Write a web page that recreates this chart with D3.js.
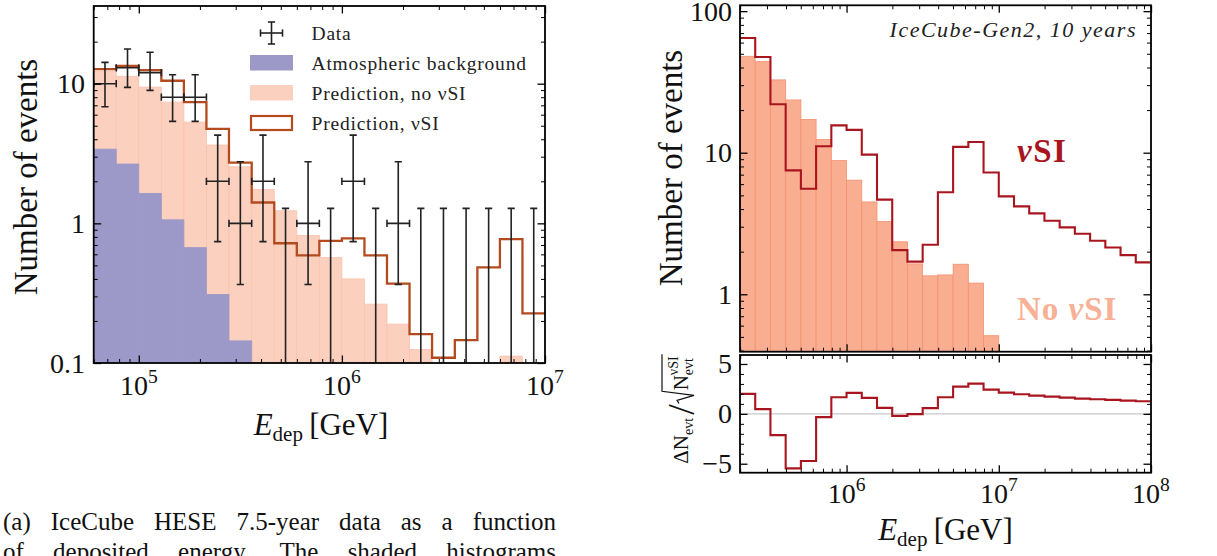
<!DOCTYPE html>
<html>
<head>
<meta charset="utf-8">
<script src="https://cdn.jsdelivr.net/npm/d3@7"></script>
<style>
  body { margin: 0; background: #fff; }
  svg { display: block; }
</style>
</head>
<body>
<svg id="fig" width="1217" height="556"></svg>
<script>
// ---------- left panel: IceCube HESE 7.5 yr (log10 of bin edges, GeV) ----------
var heseEdges = [4.778, 4.889, 5.000, 5.111, 5.222, 5.333, 5.444, 5.556, 5.667, 5.778, 5.889,
                 6.000, 6.111, 6.222, 6.333, 6.444, 6.556, 6.667, 6.778, 6.889, 7.000];
var heseAtm   = [3.4, 2.66, 1.64, 1.06, 0.67, 0.31, 0.144, 0, 0, 0, 0, 0, 0, 0, 0, 0, 0, 0, 0, 0];
var heseNoSI  = [12.3, 11.3, 9.46, 7.38, 5.31, 3.64, 2.54, 1.75, 1.23, 0.82, 0.57, 0.40, 0.264, 0.19,
                 0.125, 0, 0, 0, 0.112, 0];
var heseSI    = [12.7, 13.4, 12.5, 10.5, 7.38, 4.75, 2.72, 1.41, 0.72, 0.59, 0.75, 0.78, 0.59, 0.37,
                 0.161, 0.109, 0.146, 0.484, 0.77, 0.227];
var heseData  = [10, 13, 12, 8, 8, 2, 1, 2, 0, 1, 0, 2, 0, 1, 0, 0, 0, 0, 0, 0];
var heseErrLo = [6.83, 9.41, 8.95, 5.37, 5.37, 0.74, 0.365, 0.74, 0, 0.365, 0, 0.74, 0, 0.365, 0, 0, 0, 0, 0, 0];
var heseErrHi = [14.2, 17.7, 16.8, 11.6, 11.6, 4.28, 2.76, 4.28, 1.28, 2.76, 1.28, 4.28, 1.28, 2.76,
                 1.28, 1.28, 1.28, 1.28, 1.28, 1.28];
var heseXTicks = [1e5, 1e6, 1e7];
var heseXLabels = ["5", "6", "7"];
var heseYTicks = [0.1, 1, 10];
var heseYLabels = ["0.1", "1", "10"];
var legendNames = ["Data", "Atmospheric background", "Prediction, no \u03BDSI", "Prediction, \u03BDSI"];

// ---------- right panel: IceCube-Gen2, 10 years ----------
var gen2Edges = [5.3, 5.4, 5.5, 5.6, 5.7, 5.8, 5.9, 6.0, 6.1, 6.2, 6.3, 6.4, 6.5, 6.6,
                 6.7, 6.8, 6.9, 7.0, 7.1, 7.2, 7.3, 7.4, 7.5, 7.6, 7.7, 7.8, 7.9, 8.0];
var gen2NoSI = [48, 44, 32.7, 23.6, 17.2, 12.4, 8.8, 6.4, 4.49, 3.26, 2.35, 1.64, 1.35, 1.37,
                1.63, 1.20, 0.51];
var gen2SI   = [64.7, 47.4, 22, 7.5, 5.56, 11.1, 15.6, 14.5, 9.7, 4.66, 2.05, 1.70, 2.24, 5.26,
                11.0, 11.9, 7.25, 4.92, 4.18, 3.73, 3.31, 2.97, 2.68, 2.39, 2.14, 1.89, 1.68];
var gen2Pull = [2.0, 0.47, -2.13, -5.47, -4.73, -0.33, 1.67, 2.1, 1.6, 0.6, -0.2, -0.03, 0.57, 1.67,
                2.73, 3.03, 2.43, 2.13, 1.97, 1.83, 1.73, 1.63, 1.53, 1.47, 1.4, 1.33, 1.27];
var gen2XTicks = [1e6, 1e7, 1e8];
var gen2XLabels = ["6", "7", "8"];
var gen2YTicks = [1, 10, 100];
var gen2YLabels = ["1", "10", "100"];
var pullTicks = [-5, 0, 5];
var pullLabels = ["\u22125", "0", "5"];

var SERIF = '"Liberation Serif", "DejaVu Serif", serif';
var svg = d3.select('#fig');
svg.append('rect').attr('width', 1217).attr('height', 556).attr('fill', '#fff');

function pw(e) { return Math.pow(10, e); }

// inward ticks on one side, drawn by a d3 axis
function ticksOn(g, scale, orient, pos, vals, len, sw) {
  var ax = orient == 'bottom' ? d3.axisBottom(scale) : orient == 'top' ? d3.axisTop(scale)
         : orient == 'left' ? d3.axisLeft(scale) : d3.axisRight(scale);
  ax.tickValues(vals).tickSizeInner(-len).tickSizeOuter(0).tickFormat('');
  var t = g.append('g')
    .attr('transform', (orient == 'bottom' || orient == 'top') ? 'translate(0,' + pos + ')' : 'translate(' + pos + ',0)')
    .call(ax);
  t.select('.domain').remove();
  t.selectAll('line').attr('stroke', '#000').attr('stroke-width', sw);
}

function allTicks(g, xs, ys, box, xMaj, yMaj, xMin, yMin) {
  ['bottom', 'top'].forEach(function (o) {
    var p = o == 'bottom' ? box.y1 : box.y0;
    ticksOn(g, xs, o, p, xMin, 4, 1);
    ticksOn(g, xs, o, p, xMaj, 7.5, 1.3);
  });
  ['left', 'right'].forEach(function (o) {
    var p = o == 'left' ? box.x0 : box.x1;
    ticksOn(g, ys, o, p, yMin, 4, 1);
    ticksOn(g, ys, o, p, yMaj, 7.5, 1.3);
  });
  g.append('rect').attr('x', box.x0).attr('y', box.y0)
    .attr('width', box.x1 - box.x0).attr('height', box.y1 - box.y0)
    .attr('fill', 'none').attr('stroke', '#000').attr('stroke-width', 1.8);
}

function minorsOf(scale, majors) {
  var d = scale.domain();
  return scale.ticks().filter(function (v) {
    return v >= d[0] && v <= d[1] && majors.indexOf(v) < 0;
  });
}

function stepPoints(edges, vals) {
  var pts = vals.map(function (v, i) { return [pw(edges[i]), v]; });
  pts.push([pw(edges[vals.length]), vals[vals.length - 1]]);
  return pts;
}

function powLabel(g, x, y, base, exp, size) {
  var t = g.append('text').attr('x', x).attr('y', y).attr('text-anchor', 'middle')
    .attr('font-family', SERIF).attr('font-size', size).attr('fill', '#111');
  t.append('tspan').text(base);
  t.append('tspan').attr('font-size', size * 0.7).attr('dy', -size * 0.42).text(exp);
}

function edepLabel(g, x, y) {
  var t = g.append('text').attr('x', x).attr('y', y).attr('text-anchor', 'middle')
    .attr('font-family', SERIF).attr('font-size', 31).attr('fill', '#111');
  t.append('tspan').attr('font-style', 'italic').text('E');
  t.append('tspan').attr('font-size', 21).attr('dy', 6).text('dep');
  t.append('tspan').attr('dy', -6).text('\u2009[GeV]');
}

function yLabel(g, x, y, txt) {
  g.append('text').attr('transform', 'translate(' + x + ',' + y + ') rotate(-90)')
    .attr('text-anchor', 'middle').attr('font-family', SERIF).attr('font-size', 33)
    .attr('fill', '#111').text(txt);
}

// ================= LEFT PANEL =================
var L = {x0: 93.7, x1: 545, y0: 6, y1: 363};
var xL = d3.scaleLog().domain([pw(heseEdges[0]), pw(heseEdges[heseEdges.length - 1])]).range([L.x0, L.x1]);
var yL = d3.scaleLog().domain([0.1, 36]).range([L.y1, L.y0]);

svg.append('clipPath').attr('id', 'clipL').append('rect')
  .attr('x', L.x0).attr('y', L.y0).attr('width', L.x1 - L.x0).attr('height', L.y1 - L.y0);
var gl = svg.append('g');
var plotL = gl.append('g').attr('clip-path', 'url(#clipL)');

function bars(g, xs, ys, edges, vals, fill, edge, bottom) {
  g.selectAll(null).data(vals.map(function (v, i) { return {v: v, i: i}; })
      .filter(function (d) { return d.v > ys.domain()[0]; }))
    .enter().append('rect')
    .attr('x', function (d) { return xs(pw(edges[d.i])); })
    .attr('width', function (d) { return xs(pw(edges[d.i + 1])) - xs(pw(edges[d.i])); })
    .attr('y', function (d) { return ys(d.v); })
    .attr('height', function (d) { return bottom - ys(d.v); })
    .attr('fill', fill)
    .attr('stroke', edge).attr('stroke-width', 0.8);
}

bars(plotL, xL, yL, heseEdges, heseNoSI, '#fcd0be', '#f9c3ae', L.y1);
bars(plotL, xL, yL, heseEdges, heseAtm, '#9c99c8', '#9c99c8', L.y1);

var stepL = d3.line().x(function (d) { return xL(d[0]); }).y(function (d) { return yL(d[1]); })
  .curve(d3.curveStepAfter);
plotL.append('path').attr('d', stepL(stepPoints(heseEdges, heseSI)))
  .attr('fill', 'none').attr('stroke', '#b34b1f').attr('stroke-width', 2.3);

// data error bars
var capW = 3.6, ink = '#222';
heseData.forEach(function (n, i) {
  var xa = xL(pw(heseEdges[i])), xb = xL(pw(heseEdges[i + 1]));
  var xc = xL(pw((heseEdges[i] + heseEdges[i + 1]) / 2));
  var yTop = yL(heseErrHi[i]);
  var yBot = heseErrLo[i] > 0 ? yL(heseErrLo[i]) : L.y1 + 2;
  var e = plotL.append('g').attr('stroke', ink).attr('stroke-width', 1.6);
  e.append('line').attr('x1', xc).attr('x2', xc).attr('y1', yTop).attr('y2', yBot);
  e.append('line').attr('x1', xc - capW).attr('x2', xc + capW).attr('y1', yTop).attr('y2', yTop);
  if (n > 0) {
    var yn = yL(n);
    e.append('line').attr('x1', xc - capW).attr('x2', xc + capW).attr('y1', yBot).attr('y2', yBot);
    e.append('line').attr('x1', xa).attr('x2', xb).attr('y1', yn).attr('y2', yn);
    e.append('line').attr('x1', xa).attr('x2', xa).attr('y1', yn - capW).attr('y2', yn + capW);
    e.append('line').attr('x1', xb).attr('x2', xb).attr('y1', yn - capW).attr('y2', yn + capW);
  }
});

allTicks(gl, xL, yL, L, heseXTicks, heseYTicks, minorsOf(xL, heseXTicks), minorsOf(yL, heseYTicks));

heseXTicks.forEach(function (v, i) { powLabel(gl, xL(v), 395, '10', heseXLabels[i], 28); });
heseYTicks.forEach(function (v, i) {
  gl.append('text').attr('x', 85).attr('y', yL(v) + 9.5).attr('text-anchor', 'end')
    .attr('font-family', SERIF).attr('font-size', 28).attr('fill', '#111').text(heseYLabels[i]);
});
edepLabel(gl, 321, 435);
yLabel(gl, 37, 177, 'Number of events');

// legend
var lg = gl.append('g');
var legX = 250, legW = 43, rowY = [33, 63, 93, 123];
(function () {
  var c = legX + legW / 2, y = rowY[0], e = lg.append('g').attr('stroke', ink).attr('stroke-width', 1.6);
  e.append('line').attr('x1', c).attr('x2', c).attr('y1', y - 11).attr('y2', y + 11);
  e.append('line').attr('x1', c - capW).attr('x2', c + capW).attr('y1', y - 11).attr('y2', y - 11);
  e.append('line').attr('x1', c - capW).attr('x2', c + capW).attr('y1', y + 11).attr('y2', y + 11);
  e.append('line').attr('x1', c - 11).attr('x2', c + 11).attr('y1', y).attr('y2', y);
  e.append('line').attr('x1', c - 11).attr('x2', c - 11).attr('y1', y - capW).attr('y2', y + capW);
  e.append('line').attr('x1', c + 11).attr('x2', c + 11).attr('y1', y - capW).attr('y2', y + capW);
})();
lg.append('rect').attr('x', legX).attr('y', rowY[1] - 8).attr('width', legW).attr('height', 15.5).attr('fill', '#9c99c8');
lg.append('rect').attr('x', legX).attr('y', rowY[2] - 8).attr('width', legW).attr('height', 15.5).attr('fill', '#fcd0be');
lg.append('rect').attr('x', legX + 1).attr('y', rowY[3] - 7).attr('width', legW - 2).attr('height', 14)
  .attr('fill', '#fff').attr('stroke', '#b34b1f').attr('stroke-width', 2.2);
legendNames.forEach(function (s, i) {
  lg.append('text').attr('x', 311.5).attr('y', rowY[i] + 6.5).attr('font-family', SERIF)
    .attr('font-size', 19.5).attr('letter-spacing', 0.8).attr('fill', '#222').text(s);
});

// caption (justified)
function justified(txt, x0, x1, y, size) {
  var words = txt.split(' ');
  var nodes = words.map(function (w) {
    return svg.append('text').attr('y', y).attr('font-family', SERIF).attr('font-size', size)
      .attr('fill', '#111').text(w);
  });
  var widths = nodes.map(function (n) { return n.node().getComputedTextLength(); });
  var gap = (x1 - x0 - d3.sum(widths)) / (words.length - 1);
  var x = x0;
  nodes.forEach(function (n, i) { n.attr('x', x); x += widths[i] + gap; });
}
justified('(a) IceCube HESE 7.5-year data as a function', 3, 556, 530, 25);
justified('of deposited energy. The shaded histograms', 3, 556, 560, 25);

// ================= RIGHT PANEL =================
var R = {x0: 740, x1: 1151, y0: 5.3, y1: 351.7};
var P = {x0: 740, x1: 1151, y0: 355, y1: 472.7};
var xR = d3.scaleLog().domain([pw(gen2Edges[0]), pw(gen2Edges[gen2Edges.length - 1])]).range([R.x0, R.x1]);
var yR = d3.scaleLog().domain([0.393, 110]).range([R.y1, R.y0]);
var yP = d3.scaleLinear().domain([-5.9, 5.9]).range([P.y1, P.y0]);

svg.append('clipPath').attr('id', 'clipR').append('rect')
  .attr('x', R.x0).attr('y', R.y0).attr('width', R.x1 - R.x0).attr('height', R.y1 - R.y0);
svg.append('clipPath').attr('id', 'clipP').append('rect')
  .attr('x', P.x0).attr('y', P.y0).attr('width', P.x1 - P.x0).attr('height', P.y1 - P.y0);
var gr = svg.append('g');
var plotR = gr.append('g').attr('clip-path', 'url(#clipR)');
var plotP = gr.append('g').attr('clip-path', 'url(#clipP)');

bars(plotR, xR, yR, gen2Edges, gen2NoSI, '#f9ad91', '#f4916f', R.y1 + 2);
var stepR = d3.line().x(function (d) { return xR(d[0]); }).y(function (d) { return yR(d[1]); })
  .curve(d3.curveStepAfter);
plotR.append('path').attr('d', stepR(stepPoints(gen2Edges, gen2SI)))
  .attr('fill', 'none').attr('stroke', '#a8151e').attr('stroke-width', 2.1);

plotP.append('line').attr('x1', P.x0).attr('x2', P.x1).attr('y1', yP(0)).attr('y2', yP(0))
  .attr('stroke', '#c8c8c8').attr('stroke-width', 1.2);
var stepP = d3.line().x(function (d) { return xR(d[0]); }).y(function (d) { return yP(d[1]); })
  .curve(d3.curveStepAfter);
plotP.append('path').attr('d', stepP(stepPoints(gen2Edges, gen2Pull)))
  .attr('fill', 'none').attr('stroke', '#a8151e').attr('stroke-width', 2.1);

var xMinR = minorsOf(xR, gen2XTicks);
allTicks(gr, xR, yR, R, gen2XTicks, gen2YTicks, xMinR, minorsOf(yR, gen2YTicks));
allTicks(gr, xR, yP, P, gen2XTicks, pullTicks, xMinR, d3.range(-5, 6).filter(function (v) { return v % 5; }));

gen2XTicks.forEach(function (v, i) { powLabel(gr, xR(v), 503, '10', gen2XLabels[i], 28); });
gen2YTicks.forEach(function (v, i) {
  gr.append('text').attr('x', 732).attr('y', yR(v) + 9.5).attr('text-anchor', 'end')
    .attr('font-family', SERIF).attr('font-size', 28).attr('fill', '#111').text(gen2YLabels[i]);
});
pullTicks.forEach(function (v, i) {
  gr.append('text').attr('x', 732).attr('y', yP(v) + 9.5).attr('text-anchor', 'end')
    .attr('font-family', SERIF).attr('font-size', 28).attr('fill', '#111').text(pullLabels[i]);
});
edepLabel(gr, 945.5, 540);
yLabel(gr, 682, 168, 'Number of events');

gr.append('text').attr('x', 1137).attr('y', 36.5).attr('text-anchor', 'end')
  .attr('font-family', SERIF).attr('font-style', 'italic').attr('font-size', 22)
  .attr('letter-spacing', 1.5).attr('fill', '#222').text('IceCube-Gen2, 10 years');

var t1 = gr.append('text').attr('x', 1017).attr('y', 161.5).attr('font-family', SERIF)
  .attr('font-weight', 'bold').attr('font-size', 33).attr('letter-spacing', 1.5).attr('fill', '#a8151e');
t1.append('tspan').attr('font-style', 'italic').text('\u03BD');
t1.append('tspan').text('SI');
var t2 = gr.append('text').attr('x', 1017).attr('y', 320).attr('font-family', SERIF)
  .attr('font-weight', 'bold').attr('font-size', 33).attr('letter-spacing', 1).attr('fill', '#f8b196');
t2.append('tspan').text('No ');
t2.append('tspan').attr('font-style', 'italic').text('\u03BD');
t2.append('tspan').text('SI');

// ratio-panel label: dN_evt / sqrt(N_evt^nuSI), rotated
(function () {
  var g = gr.append('g');
  var cx = 0;
  function put(s, size, dy, style) {
    var t = g.append('text').attr('x', cx).attr('y', dy).attr('font-family', SERIF)
      .attr('font-size', size).attr('fill', '#111').text(s);
    if (style) t.attr('font-style', style);
    return t.node().getComputedTextLength();
  }
  cx += put('\u0394N', 21, 0);
  cx += put('evt', 14, 4.5) + 3;
  cx += put('/', 38, 6) + 1;
  var r0 = cx;
  cx += 13;
  var nW = put('N', 21, 0);
  cx += nW;
  var w1 = put('evt', 14, 4.5);
  var w2 = put('\u03BDSI', 14, -10);
  cx += Math.max(w1, w2) + 2;
  g.append('path')
    .attr('d', 'M' + r0 + ',-9 L' + (r0 + 3) + ',-11 L' + (r0 + 8) + ',6 L' + (r0 + 12) + ',-26 L' + cx + ',-26')
    .attr('fill', 'none').attr('stroke', '#111').attr('stroke-width', 1.2);
  g.attr('transform', 'translate(688,' + (409 + cx / 2) + ') rotate(-90)');
})();
</script>
</body>
</html>
